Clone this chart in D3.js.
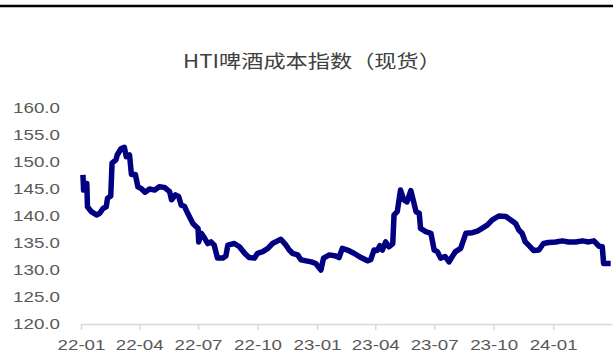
<!DOCTYPE html>
<html>
<head>
<meta charset="utf-8">
<script src="https://cdn.jsdelivr.net/npm/d3@7/dist/d3.min.js"></script>
<style>
  html, body { margin: 0; padding: 0; background: #fff; }
  svg { display: block; }
</style>
</head>
<body>
<svg id="chart" width="613" height="353"></svg>
<script>
const title = "HTI啤酒成本指数（现货）";
const yTicks = [120, 125, 130, 135, 140, 145, 150, 155, 160];
const xTickDates = ["2022-01-01","2022-04-01","2022-07-01","2022-10-01","2023-01-01","2023-04-01","2023-07-01","2023-10-01","2024-01-01"];
const xTickLabels = ["22-01","22-04","22-07","22-10","23-01","23-04","23-07","23-10","24-01"];

const dates = [
"2022-01-04","2022-01-05","2022-01-06","2022-01-10","2022-01-11","2022-01-17","2022-01-25","2022-01-30","2022-02-04","2022-02-09",
"2022-02-11","2022-02-16","2022-02-18","2022-02-24","2022-02-26","2022-03-04","2022-03-09","2022-03-12","2022-03-17","2022-03-20",
"2022-03-26","2022-03-30","2022-04-04","2022-04-10","2022-04-17","2022-04-25","2022-05-02","2022-05-10","2022-05-18","2022-05-21",
"2022-05-27","2022-06-01","2022-06-05","2022-06-10","2022-06-15","2022-06-23","2022-07-01","2022-07-02","2022-07-06","2022-07-11",
"2022-07-16","2022-07-21","2022-07-26","2022-07-31","2022-08-08","2022-08-13","2022-08-16","2022-08-26","2022-09-03","2022-09-11",
"2022-09-18","2022-09-26","2022-10-01","2022-10-09","2022-10-17","2022-10-24","2022-11-01","2022-11-06","2022-11-14","2022-11-19",
"2022-11-24","2022-12-02","2022-12-07","2022-12-15","2022-12-23","2022-12-30","2023-01-07","2023-01-11","2023-01-20","2023-01-30",
"2023-02-04","2023-02-09","2023-02-17","2023-02-27","2023-03-10","2023-03-20","2023-03-25","2023-03-30","2023-04-04","2023-04-08",
"2023-04-12","2023-04-17","2023-04-22","2023-04-28","2023-04-30","2023-05-05","2023-05-10","2023-05-15","2023-05-20","2023-05-26",
"2023-05-31","2023-06-03","2023-06-08","2023-06-10","2023-06-18","2023-06-26","2023-07-01","2023-07-06","2023-07-11","2023-07-18",
"2023-07-24","2023-07-29","2023-08-03","2023-08-11","2023-08-19","2023-08-29","2023-09-06","2023-09-13","2023-09-21","2023-09-29",
"2023-10-09","2023-10-20","2023-10-27","2023-11-04","2023-11-09","2023-11-14","2023-11-19","2023-11-24","2023-12-02","2023-12-10",
"2023-12-17","2023-12-25","2024-01-05","2024-01-15","2024-01-25","2024-02-05","2024-02-15","2024-02-25","2024-03-04","2024-03-12",
"2024-03-17","2024-03-19","2024-03-30"
];
const values = [
147.6,144.8,146.0,146.0,141.7,140.8,140.2,140.5,141.4,141.7,
143.3,143.7,149.8,150.4,151.3,152.5,152.7,151.0,151.3,147.7,
147.7,145.4,145.1,144.4,145.0,144.8,145.4,145.3,144.5,143.0,
143.9,143.6,142.0,141.8,140.5,138.6,137.7,135.2,136.8,135.9,
134.9,135.2,134.6,132.2,132.2,132.6,134.6,134.9,134.3,133.1,
132.3,132.2,133.1,133.4,134.0,134.9,135.4,135.7,134.6,133.7,
133.1,132.8,131.9,131.7,131.5,131.2,130.0,132.2,132.8,132.6,
132.3,134.0,133.7,133.1,132.3,131.7,131.9,133.7,133.6,134.5,
133.7,135.2,134.3,134.9,140.2,140.8,144.8,143.0,142.6,144.7,
142.3,140.8,140.5,137.7,137.1,136.8,133.7,133.4,132.2,132.5,
131.5,132.5,133.4,134.0,136.8,136.9,137.2,137.7,138.3,139.3,
140.0,139.9,139.3,138.6,137.4,136.8,135.2,134.6,133.6,133.7,
134.9,135.1,135.2,135.4,135.2,135.2,135.4,135.2,135.4,134.4,
134.3,131.2,131.2
];

const parse = d3.timeParse("%Y-%m-%d");
const data = dates.map((d, i) => ({ date: parse(d), value: values[i] }));

const svg = d3.select("#chart");
const W = 613, H = 353;
const stretch = 1.25;

// top rule
svg.append("line")
  .attr("x1", 0).attr("x2", W).attr("y1", 6).attr("y2", 6)
  .attr("stroke", "#000").attr("stroke-width", 2.5);

// title
svg.append("g")
  .attr("transform", `translate(312,68) scale(1.2,1)`)
  .append("text")
  .attr("text-anchor", "middle")
  .attr("font-family", "'Noto Sans CJK SC', sans-serif")
  .attr("font-size", 18.5)
  .attr("font-weight", 400)
  .attr("fill", "#404040")
  .text(title);

const x = d3.scaleTime()
  .domain([parse("2022-01-01"), parse("2024-04-01")])
  .range([81, 612]);
const y = d3.scaleLinear().domain([120, 160]).range([324, 108]);

// y labels
const yl = svg.append("g");
yTicks.forEach(t => {
  yl.append("g")
    .attr("transform", `translate(60,${y(t) + 5.3}) scale(${stretch},1)`)
    .append("text")
    .attr("text-anchor", "end")
    .attr("font-family", "Arial, 'Liberation Sans', sans-serif")
    .attr("font-size", 15)
    .attr("fill", "#595959")
    .text(d3.format(".1f")(t));
});

// x axis
const xAxis = d3.axisBottom(x)
  .tickValues(xTickDates.map(parse))
  .tickFormat((d, i) => xTickLabels[i])
  .tickSizeInner(6)
  .tickSizeOuter(0)
  .tickPadding(0);

const gx = svg.append("g")
  .attr("transform", `translate(0,${y(120)})`)
  .call(xAxis);
gx.select(".domain").attr("stroke", "#d9d9d9").attr("stroke-width", 1.5);
gx.selectAll(".tick line").attr("stroke", "#d9d9d9").attr("stroke-width", 1.5);
gx.selectAll(".tick text")
  .attr("y", 26.5).attr("dy", 0)
  .attr("font-family", "Arial, 'Liberation Sans', sans-serif")
  .attr("font-size", 15)
  .attr("fill", "#595959")
  .attr("transform", `scale(${stretch},1)`);

// line
const line = d3.line()
  .x(d => x(d.date))
  .y(d => y(d.value));

svg.append("path")
  .datum(data)
  .attr("fill", "none")
  .attr("stroke", "#000080")
  .attr("stroke-width", 5.5)
  .attr("stroke-linejoin", "round")
  .attr("stroke-linecap", "butt")
  .attr("d", line);
</script>
</body>
</html>
